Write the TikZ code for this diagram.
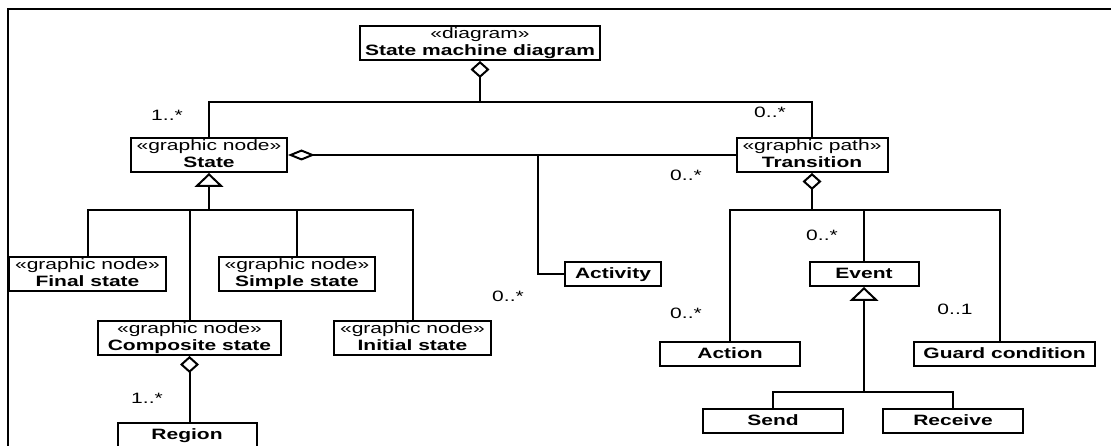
\documentclass[tikz,border=0pt]{standalone}
\usepackage{fontspec}
\setmainfont{Liberation Sans}[FakeStretch=1.4]
\usepackage{tikz}
\usetikzlibrary{arrows.meta,calc,positioning}
\tikzstyle{conn} = [draw, line width=1.2pt]
\tikzstyle{classbox} = [draw, line width=1.2pt, inner sep=0pt, align=center, font=\fontsize{9}{10.2}\selectfont]
\tikzstyle{onebox} = [classbox, minimum height=14.4pt, text height=7.2pt, text depth=2.2pt, font=\fontsize{9}{10.2}\selectfont\bfseries]
\tikzstyle{twobox} = [classbox, minimum height=20.4pt]
\tikzstyle{mult} = [inner sep=0pt, font=\fontsize{9}{10.2}\selectfont]
\tikzstyle{aggr} = [conn, {Diamond[open,length=10.2pt,width=11.4pt]}-]
\tikzstyle{aggrh} = [conn, {Diamond[open,length=16.2pt,width=6.6pt]}-]
\tikzstyle{gen} = [conn, {Triangle[open,length=8.4pt,width=17.4pt]}-]
\newcommand{\stereo}[2]{«#1»\\\textbf{#2}\vphantom{g}}

\begin{document}
\begin{tikzpicture}[x=0.6pt,y=-0.6pt]
    \useasboundingbox (0,0) rectangle (1111,446);
    \draw[line width=1.6pt] (8,446) -- (8,9) -- (1111,9);
    % classes
    \node[twobox, minimum width=144pt] (smd) at (480,43) {\stereo{diagram}{State machine diagram}};
    \node[twobox, minimum width=93.6pt] (state) at (209,155) {\stereo{graphic node}{State}};
    \node[twobox, minimum width=90.6pt] (trans) at (812,155) {\stereo{graphic path}{Transition}};
    \node[twobox, minimum width=94.2pt] (final) at (87.5,274) {\stereo{graphic node}{Final state}};
    \node[twobox, minimum width=93.6pt] (simple) at (297,274) {\stereo{graphic node}{Simple state}};
    \node[twobox, minimum width=109.8pt] (comp) at (189.5,338) {\stereo{graphic node}{Composite state}};
    \node[twobox, minimum width=94.2pt] (initial) at (412.5,338) {\stereo{graphic node}{Initial state}};
    \node[onebox, minimum width=83.4pt] (region) at (187,435) {Region};
    \node[onebox, minimum width=57.3pt] (activity) at (613,274) {Activity};
    \node[onebox, minimum width=84pt] (action) at (730,354) {Action};
    \node[onebox, minimum width=65.4pt] (event) at (864,274) {Event};
    \node[onebox, minimum width=108.6pt] (guard) at (1004.5,354) {Guard condition};
    \node[onebox, minimum width=84pt] (send) at (773,421) {Send};
    \node[onebox, minimum width=84pt] (receive) at (953,421) {Receive};
    % junctions
    \coordinate (topbus) at (480,102);
    \coordinate (genbus) at (209,210);
    \coordinate (trbus) at (812,210);
    \coordinate (evbus) at (864,392);
    \coordinate (actcorner) at (538,155);
    \draw[aggr] (smd.south) -- (topbus);
    \draw[conn] (state.north) |- (topbus) -| (trans.north);
    \draw[aggrh] (state.east) -- (trans.west);
    \draw[conn] (actcorner) |- (activity.west);
    \draw[gen] (state.south) -- (genbus);
    \draw[conn] (final.north) |- (genbus) -| (initial.north);
    \draw[conn] (comp.north) -- (comp.north |- genbus);
    \draw[conn] (simple.north) -- (simple.north |- genbus);
    \draw[aggr] (comp.south) -- (comp.south |- region.north);
    \draw[aggr] (trans.south) -- (trbus);
    \draw[conn] (action.north) |- (trbus) -| ([xshift=-2.7pt]guard.north);
    \draw[conn] (event.north) -- (event.north |- trbus);
    \draw[gen] (event.south) -- (evbus);
    \draw[conn] (send.north) |- (evbus) -| (receive.north);
    % multiplicities
    \node[mult] (m1) at (167,115) {1..*};
    \node[mult] (m2) at (770,112) {0..*};
    \node[mult] (m3) at (686,175) {0..*};
    \node[mult] (m4) at (508,296) {0..*};
    \node[mult] (m5) at (147,398) {1..*};
    \node[mult] (m6) at (686,313) {0..*};
    \node[mult] (m7) at (822,235) {0..*};
    \node[mult] (m8) at (955,309) {0..1};
\end{tikzpicture}
\end{document}
